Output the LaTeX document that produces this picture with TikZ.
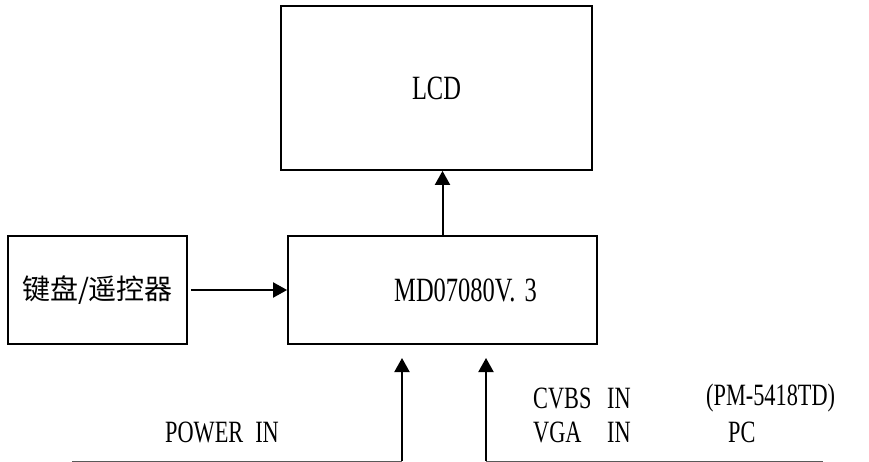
\documentclass[tikz,border=0pt]{standalone}
\usepackage{fontspec}
\setmainfont[FakeStretch=0.72]{Liberation Serif}
\newfontfamily\cjk{Noto Sans CJK SC}
\usetikzlibrary{arrows.meta, positioning}

\begin{document}
\begin{tikzpicture}[
        x=1pt, y=-1pt,
        box/.style={rectangle, draw, line width=1.8pt, inner sep=0pt, align=center},
        arrow/.style={-{Triangle[length=14pt, width=15pt]}, line width=2pt},
        feed/.style={draw=black!65, line width=1pt},
        lbl/.style={font=\fontsize{31}{33}\selectfont, inner sep=0pt},
        big/.style={font=\fontsize{34}{36}\selectfont}
    ]
        \useasboundingbox (0,0) rectangle (869,462);

        % Boxes
        \node[box, big, minimum width=311pt, minimum height=164pt] (lcd) at (436.5, 88) {LCD};
        \node[box, big, minimum width=309pt, minimum height=108pt] (main) at (442.5, 290) {\hspace*{46pt}MD07080V.\hspace{9pt}3};
        \node[box, minimum width=179pt, minimum height=108pt, font=\cjk\fontsize{28}{30}\selectfont] (kbd) at (97.5, 290) {键盘/遥控器};

        % Arrows into the boxes
        \draw[arrow] (main.north) -- (main.north |- lcd.south);
        \draw[arrow, shorten <=3pt] (kbd.east) -- (main.west);

        % Inputs
        \coordinate (pwrl) at (72, 461);
        \coordinate (pwr) at (402, 461);
        \coordinate (pwrtip) at (402, 358);
        \coordinate (sig) at (486, 461);
        \coordinate (sigr) at (823, 461);
        \coordinate (sigtip) at (486, 358);
        \draw[feed] (pwrl) -- (pwr);
        \draw[feed] (sig) -- (sigr);
        \draw[arrow] (pwr) -- (pwrtip);
        \draw[arrow] (sig) -- (sigtip);

        \node[lbl] (pwrtxt) at (222, 432) {POWER\hspace{12pt}IN};
        \node[lbl, anchor=west] (cvbs) at (533, 398) {\makebox[74pt][l]{CVBS}IN};
        \node[lbl, anchor=west] (vga) at (533, 432) {\makebox[74pt][l]{VGA}IN};
        \node[lbl, anchor=west] (model) at (706, 398) {(PM-5418TD)};
        \node[lbl, anchor=west] (pc) at (728, 432) {PC};

    \end{tikzpicture}
\end{document}
